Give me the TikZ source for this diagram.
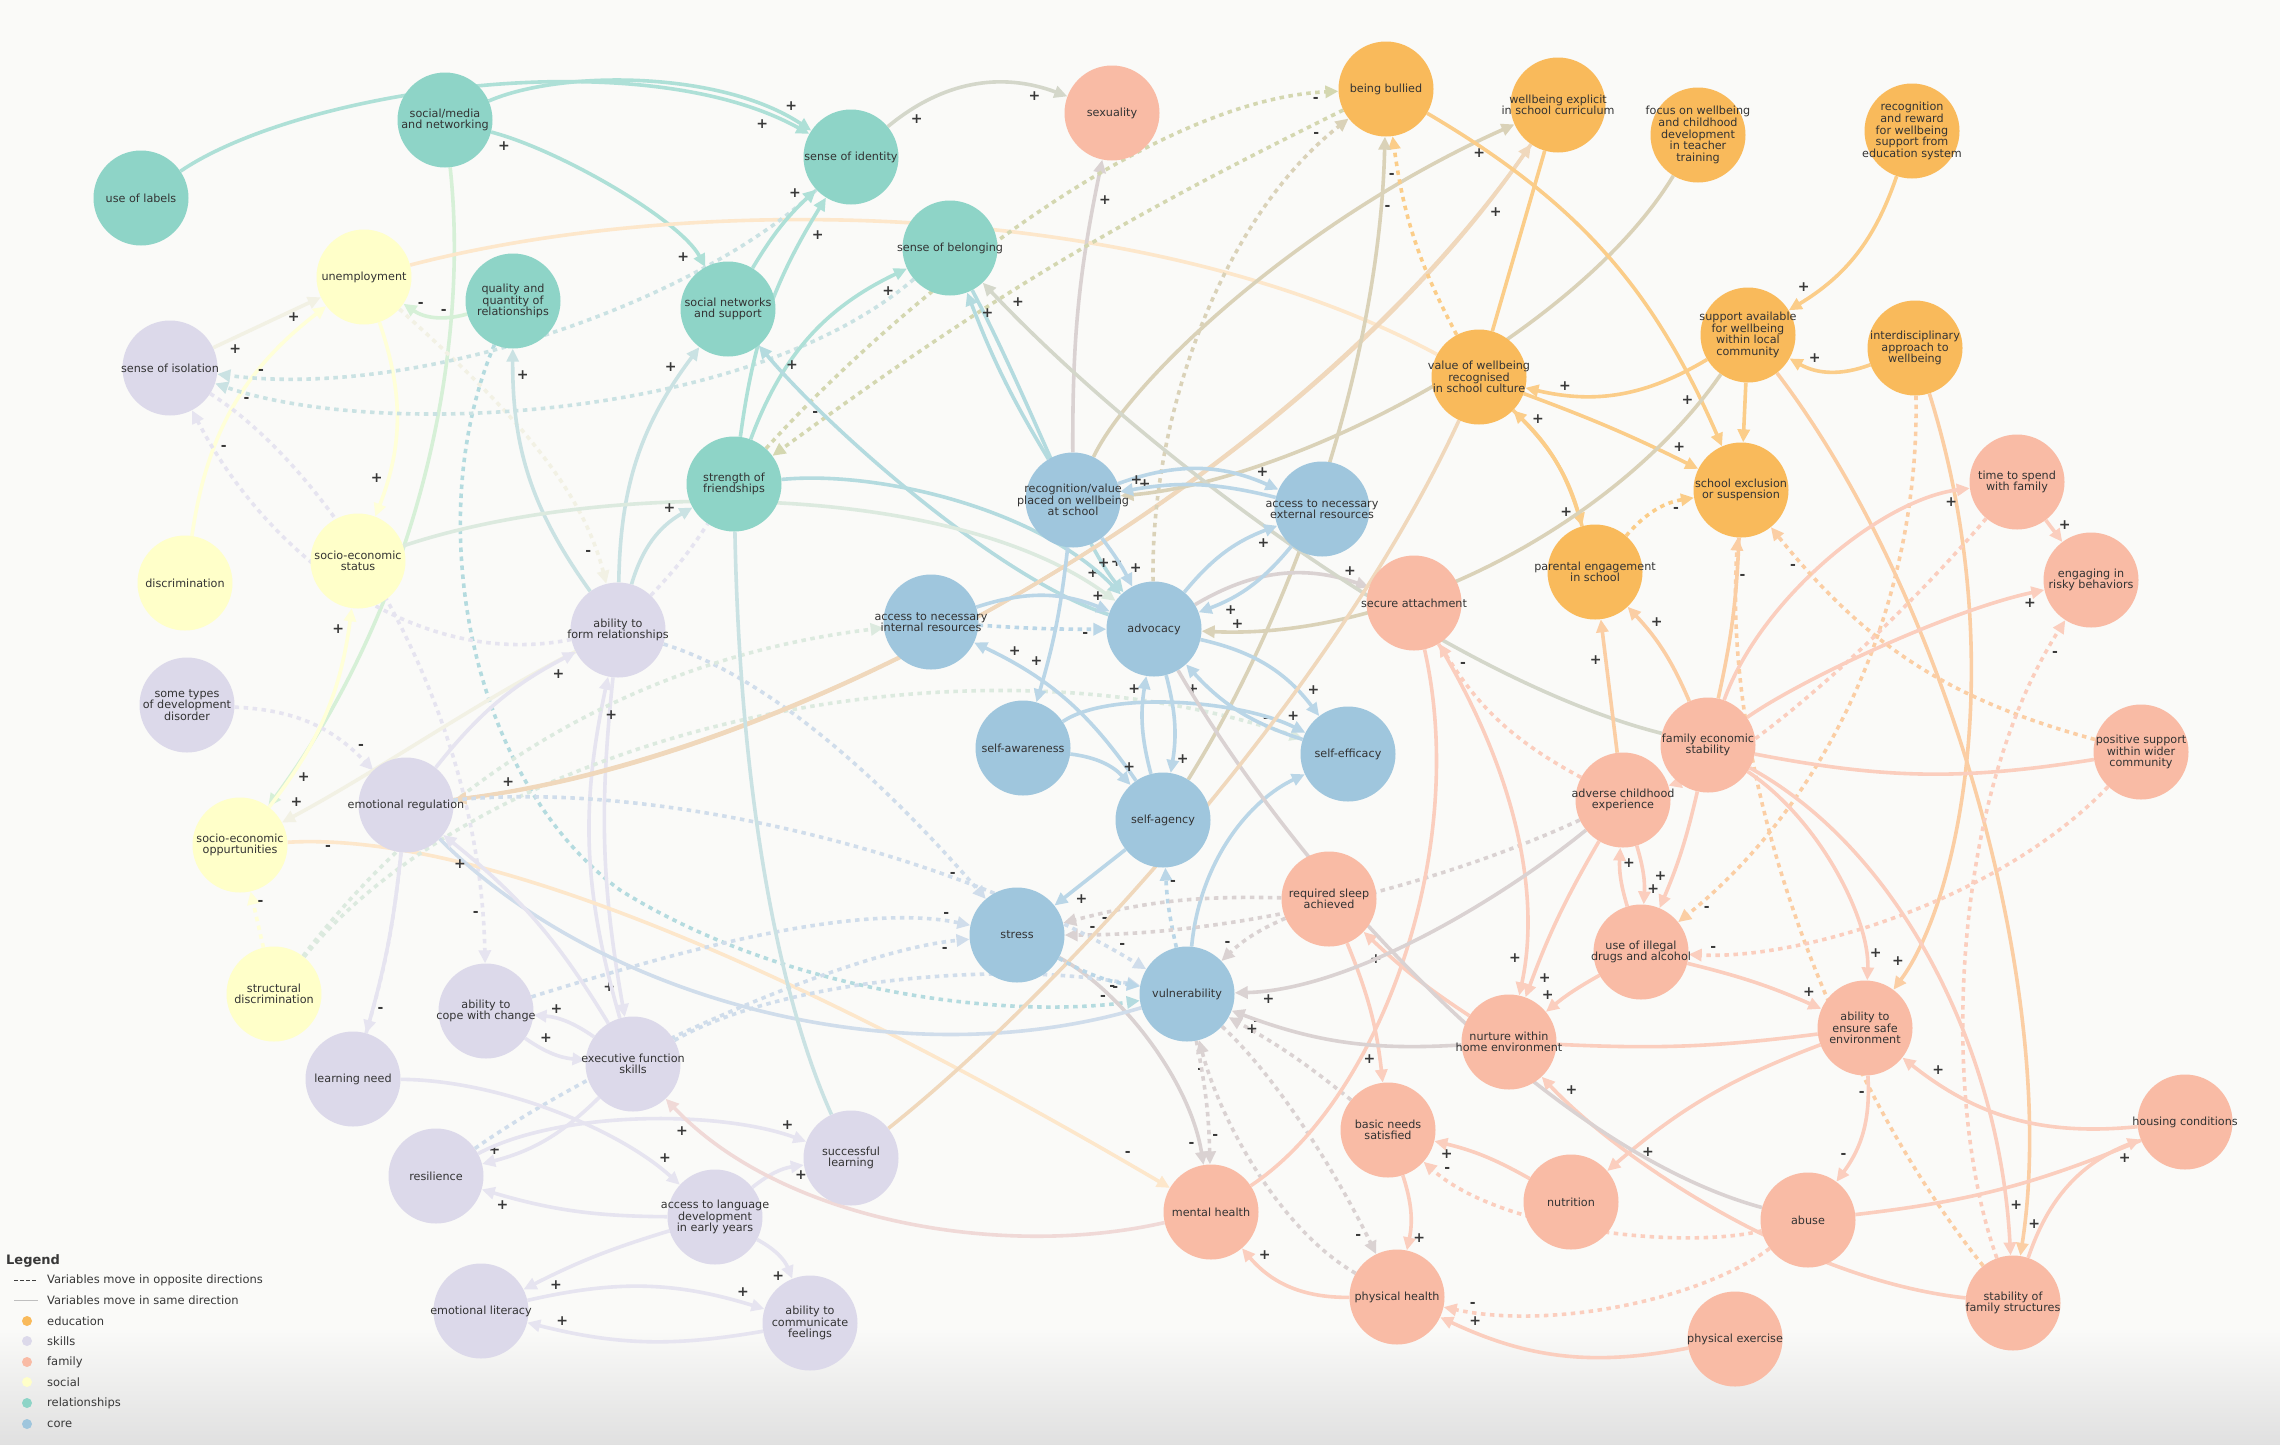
\documentclass[tikz,border=0pt]{standalone}
\usepackage{fontspec}
\setmainfont{DejaVu Sans}
\usetikzlibrary{arrows.meta}
\definecolor{cE}{HTML}{F9BA5B}
\definecolor{cS}{HTML}{DCD9EA}
\definecolor{cF}{HTML}{F9BBA5}
\definecolor{cY}{HTML}{FFFFC9}
\definecolor{cR}{HTML}{8ED4C7}
\definecolor{cC}{HTML}{9FC6DD}
\definecolor{bgc}{HTML}{FAFAF8}
\pgfdeclarelayer{bgl}
\pgfdeclarelayer{edl}
\pgfsetlayers{bgl,edl,main}
\newcommand\nodefnt{\fontsize{11.2}{11.6}\selectfont}
\newcommand\signfnt{\fontsize{14}{14}\selectfont\bfseries}
\newcommand\legfnt{\fontsize{11.5}{12}\selectfont}
\begin{document}
\begin{tikzpicture}[x=1pt,y=1pt,
  nbase/.style={circle,minimum size=95pt,inner sep=-18pt,align=center,font=\nodefnt,text=black!80},
  edu/.style={nbase,fill=cE}, skl/.style={nbase,fill=cS}, fam/.style={nbase,fill=cF},
  soc/.style={nbase,fill=cY}, rel/.style={nbase,fill=cR}, cor/.style={nbase,fill=cC},
  lnk/.style 2 args={line width=3.6pt,draw=#1!50!#2!72!white,-{Triangle[length=13pt,width=12pt]}},
  dsh/.style 2 args={lnk={#1}{#2},dash pattern=on 4.5pt off 4.5pt},
  sgl/.style={font=\signfnt,text=black!78,inner sep=1.5pt,auto=left},
  sgr/.style={font=\signfnt,text=black!78,inner sep=1.5pt,auto=right},
  legtxt/.style={anchor=west,font=\legfnt,text=black!78,inner sep=0pt}]
\useasboundingbox (0,0) rectangle (2280,-1444);
\begin{pgfonlayer}{bgl}
\fill[bgc] (0,0) rectangle (2280,-1444);
\shade[top color=bgc,bottom color=black!12] (0,-1330) rectangle (2280,-1444);
\end{pgfonlayer}

% ---------- nodes ----------
\node[rel] (uselabels) at (141,-198) {use of labels};
\node[rel] (socialmedia) at (445,-120) {social/media\\and networking};
\node[soc] (unemployment) at (364,-277) {unemployment};
\node[rel] (quality) at (513,-301) {quality and\\quantity of\\relationships};
\node[skl] (isolation) at (170,-368) {sense of isolation};
\node[rel] (identity) at (851,-157) {sense of identity};
\node[fam] (sexuality) at (1112,-113) {sexuality};
\node[rel] (belonging) at (950,-248) {sense of belonging};
\node[rel] (networks) at (728,-309) {social networks\\and support};
\node[rel] (strength) at (734,-484) {strength of\\friendships};
\node[edu] (bullied) at (1386,-89) {being bullied};
\node[edu] (curriculum) at (1558,-105) {wellbeing explicit\\in school curriculum};
\node[edu] (focus) at (1698,-135) {focus on wellbeing\\and childhood\\development\\in teacher\\training};
\node[edu] (valuewb) at (1479,-377) {value of wellbeing\\recognised\\in school culture};
\node[edu] (recognition) at (1912,-131) {recognition\\and reward\\for wellbeing\\support from\\education system};
\node[edu] (support) at (1748,-335) {support available\\for wellbeing\\within local\\community};
\node[edu] (interdisc) at (1915,-348) {interdisciplinary\\approach to\\wellbeing};
\node[fam] (timefamily) at (2017,-482) {time to spend\\with family};
\node[edu] (exclusion) at (1741,-490) {school exclusion\\or suspension};
\node[soc] (discrimination) at (185,-583) {discrimination};
\node[soc] (sesstatus) at (358,-561) {socio-economic\\status};
\node[skl] (devdisorder) at (187,-705) {some types\\of development\\disorder};
\node[skl] (emoreg) at (406,-805) {emotional regulation};
\node[soc] (sesopp) at (240,-845) {socio-economic\\oppurtunities};
\node[soc] (structural) at (274,-994) {structural\\discrimination};
\node[skl] (formrel) at (618,-630) {ability to\\form relationships};
\node[cor] (internal) at (931,-622) {access to necessary\\internal resources};
\node[cor] (recogvalue) at (1073,-500) {recognition/value\\placed on wellbeing\\at school};
\node[cor] (selfaware) at (1023,-748) {self-awareness};
\node[cor] (stress) at (1017,-935) {stress};
\node[cor] (external) at (1322,-509) {access to necessary\\external resources};
\node[cor] (advocacy) at (1154,-629) {advocacy};
\node[fam] (secure) at (1414,-603) {secure attachment};
\node[edu] (parental) at (1595,-572) {parental engagement\\in school};
\node[cor] (selfefficacy) at (1348,-754) {self-efficacy};
\node[cor] (selfagency) at (1163,-820) {self-agency};
\node[fam] (famecon) at (1708,-745) {family economic\\stability};
\node[fam] (adverse) at (1623,-800) {adverse childhood\\experience};
\node[fam] (sleep) at (1329,-899) {required sleep\\achieved};
\node[fam] (drugs) at (1641,-952) {use of illegal\\drugs and alcohol};
\node[fam] (risky) at (2091,-580) {engaging in\\risky behaviors};
\node[fam] (positive) at (2141,-752) {positive support\\within wider\\community};
\node[skl] (learning) at (353,-1079) {learning need};
\node[skl] (cope) at (486,-1011) {ability to\\cope with change};
\node[skl] (resilience) at (436,-1176) {resilience};
\node[skl] (emolit) at (481,-1311) {emotional literacy};
\node[skl] (execfn) at (633,-1064) {executive function\\skills};
\node[skl] (successful) at (851,-1158) {successful\\learning};
\node[skl] (language) at (715,-1217) {access to language\\development\\in early years};
\node[skl] (communicate) at (810,-1323) {ability to\\communicate\\feelings};
\node[cor] (vulnerability) at (1187,-994) {vulnerability};
\node[fam] (nurture) at (1509,-1042) {nurture within\\home environment};
\node[fam] (basic) at (1388,-1130) {basic needs\\satisfied};
\node[fam] (mental) at (1211,-1212) {mental health};
\node[fam] (nutrition) at (1571,-1202) {nutrition};
\node[fam] (physhealth) at (1397,-1297) {physical health};
\node[fam] (exercise) at (1735,-1339) {physical exercise};
\node[fam] (safeenv) at (1865,-1028) {ability to\\ensure safe\\environment};
\node[fam] (housing) at (2185,-1122) {housing conditions};
\node[fam] (abuse) at (1808,-1220) {abuse};
\node[fam] (stability) at (2013,-1303) {stability of\\family structures};

% ---------- connectors ----------
\begin{pgfonlayer}{edl}
\draw[lnk={cR}{cR}] (uselabels) .. controls (300,-90) and (640,-40) .. (identity) node[sgr,pos=.93]{+};
\draw[lnk={cR}{cR}] (socialmedia) .. controls (560,-70) and (720,-70) .. (identity) node[sgl,pos=.9]{+};
\draw[lnk={cR}{cR}] (socialmedia) .. controls (560,-150) and (680,-220) .. (networks) node[sgr,pos=.88]{+} node[sgr,pos=.1]{+};
\draw[lnk={cR}{cY}] (socialmedia) .. controls (470,-350) and (420,-600) .. (sesopp) node[sgl,pos=.94]{+};
\draw[lnk={cR}{cY}] (quality) to[bend left=25] node[sgr,pos=.82]{-} node[sgr,pos=.25]{-} (unemployment);
\draw[lnk={cS}{cY}] (isolation) -- node[sgr,pos=.12]{+} (unemployment);
\draw[lnk={cY}{cY}] (discrimination) to[bend left=22] node[sgl,pos=.9]{+} (unemployment);
\draw[lnk={cY}{cY}] (unemployment) to[bend left=20] node[sgr,pos=.85]{+} (sesstatus);
\draw[lnk={cY}{cF},-] (unemployment) .. controls (700,-190) and (1150,-200) .. (valuewb);
\draw[dsh={cY}{cS}] (unemployment) .. controls (500,-400) and (580,-480) .. (formrel) node[sgr,pos=.88]{-};
\draw[dsh={cR}{cC}] (quality) .. controls (420,-520) and (470,-780) .. (620,-890) .. controls (780,-990) and (1000,-1020) .. (vulnerability) node[sgl,pos=.93]{-};
\draw[lnk={cS}{cR}] (formrel) to[bend left=18] node[sgr,pos=.88]{+} (quality);
\draw[dsh={cR}{cS}] (identity) .. controls (700,-300) and (420,-400) .. (isolation) node[sgr,pos=.93]{-};
\draw[dsh={cR}{cS}] (belonging) .. controls (750,-420) and (380,-440) .. (isolation) node[sgl,pos=.93]{-};
\draw[dsh={cS}{cS}] (formrel) .. controls (420,-670) and (270,-560) .. (isolation) node[sgr,pos=.9]{-};
\draw[dsh={cS}{cS}] (isolation) .. controls (330,-470) and (480,-700) .. (cope) node[sgr,pos=.93]{-};
\draw[lnk={cR}{cF}] (identity) to[bend left=30] node[sgr,pos=.12]{+} node[sgr,pos=.88]{+} (sexuality);
\draw[lnk={cC}{cF}] (recogvalue) to[bend left=6] node[sgr,pos=.9]{+} (sexuality);
\draw[lnk={cR}{cR}] (networks) to[bend left=8] node[sgl,pos=.85]{+} (identity);
\draw[lnk={cR}{cR}] (strength) to[bend left=12] node[sgr,pos=.88]{+} (identity);
\draw[lnk={cR}{cR}] (strength) to[bend left=22] node[sgr,pos=.88]{+} (belonging);
\draw[dsh={cR}{cE}] (strength) .. controls (900,-300) and (1150,-100) .. (bullied) node[sgr,pos=.95]{-};
\draw[dsh={cE}{cR}] (bullied) to[bend right=5] node[sgr,pos=.92]{-} (strength);
\draw[lnk={cS}{cR}] (formrel) to[bend left=18] node[sgl,pos=.88]{+} (networks);
\draw[lnk={cC}{cR}] (advocacy) .. controls (1000,-580) and (830,-430) .. (networks) node[sgr,pos=.9]{+};
\draw[lnk={cR}{cC}] (belonging) .. controls (1030,-400) and (1080,-540) .. (advocacy) node[sgl,pos=.88]{+};
\draw[lnk={cY}{cC}] (sesstatus) .. controls (600,-480) and (950,-480) .. (advocacy) node[sgl,pos=.94]{+};
\draw[lnk={cR}{cC}] (strength) .. controls (880,-470) and (1040,-510) .. (advocacy) node[sgl,pos=.9]{+};
\draw[lnk={cS}{cR}] (formrel) to[bend left=22] node[sgl,pos=.85]{+} (strength);
\draw[dsh={cS}{cS},-] (formrel) to[bend right=5] (strength);
\draw[dsh={cS}{cC}] (formrel) .. controls (780,-680) and (900,-800) .. (stress) node[sgr,pos=.9]{-};
\draw[dsh={cS}{cS}] (devdisorder) to[bend left=22] node[sgl,pos=.85]{-} (emoreg);
\draw[lnk={cY}{cY}] (sesopp) to[bend right=15] node[sgl,pos=.88]{+} (sesstatus);
\draw[lnk={cS}{cY}] (formrel) .. controls (480,-700) and (380,-770) .. (sesopp) node[sgr,pos=.92]{+};
\draw[lnk={cS}{cS}] (emoreg) to[bend left=12] node[sgr,pos=.85]{+} (formrel);
\draw[lnk={cS}{cS}] (formrel) to[bend right=8] node[sgr,pos=.9]{+} (execfn);
\draw[lnk={cS}{cS}] (execfn) to[bend left=14] node[sgr,pos=.92]{+} (formrel);
\draw[lnk={cY}{cF}] (sesopp) .. controls (500,-830) and (850,-1000) .. (mental) node[sgr,pos=.07]{-} node[sgl,pos=.95]{-};
\draw[dsh={cY}{cY}] (structural) -- node[sgr,pos=.7]{-} (sesopp);
\draw[dsh={cY}{cC}] (structural) .. controls (430,-790) and (620,-660) .. (internal);
\draw[dsh={cY}{cC}] (structural) .. controls (480,-740) and (950,-620) .. (selfefficacy) node[sgl,pos=.96]{-};
\draw[lnk={cE}{cS}] (curriculum) .. controls (1300,-480) and (800,-760) .. (emoreg) node[sgr,pos=.94]{+};
\draw[lnk={cS}{cE}] (emoreg) .. controls (800,-760) and (1300,-480) .. (curriculum) node[sgr,pos=.94]{+};
\draw[lnk={cC}{cE}] (recogvalue) .. controls (1130,-380) and (1300,-220) .. (curriculum) node[sgr,pos=.93]{+};
\draw[lnk={cE}{cC}] (focus) .. controls (1580,-330) and (1300,-480) .. (recogvalue) node[sgr,pos=.94]{+};
\draw[lnk={cE}{cE},-] (curriculum) -- (valuewb);
\draw[lnk={cE}{cE}] (bullied) to[bend left=18] node[sgr,pos=.88]{+} (exclusion);
\draw[dsh={cE}{cE}] (valuewb) to[bend left=10] node[sgl,pos=.85]{-} (bullied);
\draw[lnk={cC}{cE}] (selfagency) .. controls (1300,-600) and (1380,-350) .. (bullied) node[sgr,pos=.9]{-};
\draw[dsh={cC}{cE}] (advocacy) .. controls (1150,-420) and (1220,-220) .. (bullied) node[sgl,pos=.93]{-};
\draw[lnk={cE}{cE}] (valuewb) to[bend left=15] node[sgr,pos=.85]{+} (parental);
\draw[lnk={cE}{cE}] (parental) to[bend right=15] node[sgr,pos=.85]{+} (valuewb);
\draw[lnk={cE}{cE}] (valuewb) to[bend left=3] node[sgl,pos=.85]{+} (exclusion);
\draw[lnk={cE}{cE}] (support) to[bend left=22] node[sgr,pos=.85]{+} (valuewb);
\draw[lnk={cE}{cE}] (recognition) to[bend left=20] node[sgr,pos=.85]{+} (support);
\draw[lnk={cE}{cE}] (interdisc) to[bend left=25] node[sgr,pos=.8]{+} (support);
\draw[dsh={cE}{cF}] (interdisc) .. controls (1920,-600) and (1830,-800) .. (drugs) node[sgl,pos=.95]{-};
\draw[lnk={cE}{cF}] (interdisc) .. controls (2010,-650) and (1960,-900) .. (safeenv) node[sgr,pos=.93]{+};
\draw[lnk={cE}{cF}] (support) .. controls (1950,-600) and (2060,-1000) .. (stability) node[sgl,pos=.95]{+};
\draw[lnk={cE}{cE}] (support) -- (exclusion);
\draw[lnk={cE}{cC}] (support) .. controls (1620,-520) and (1400,-640) .. (advocacy) node[sgr,pos=.94]{+};
\draw[lnk={cC}{cF}] (advocacy) to[bend left=25] node[sgl,pos=.85]{+} (secure);
\draw[lnk={cF}{cR}] (famecon) .. controls (1450,-680) and (1150,-460) .. (belonging) node[sgr,pos=.95]{+};
\draw[lnk={cC}{cR}] (recogvalue) to[bend left=5] node[sgr,pos=.85]{+} (belonging);
\draw[lnk={cC}{cC}] (recogvalue) to[bend left=5] node[sgl,pos=.8]{+} (advocacy);
\draw[lnk={cC}{cC}] (recogvalue) to[bend left=22] node[sgl,pos=.85]{+} (external);
\draw[lnk={cC}{cC}] (external) to[bend right=12] node[sgr,pos=.85]{+} (recogvalue);
\draw[lnk={cC}{cC}] (advocacy) to[bend left=15] node[sgr,pos=.8]{+} (external);
\draw[lnk={cC}{cC}] (external) to[bend left=15] node[sgl,pos=.8]{+} (advocacy);
\draw[lnk={cC}{cC}] (internal) to[bend left=20] node[sgl,pos=.85]{+} (advocacy);
\draw[dsh={cC}{cC}] (internal) to[bend right=2] node[sgr,pos=.85]{-} (advocacy);
\draw[lnk={cC}{cC}] (selfagency) to[bend right=15] node[sgr,pos=.85]{+} (internal);
\draw[lnk={cC}{cC}] (recogvalue) to[bend left=5] node[sgr,pos=.8]{+} (selfaware);
\draw[lnk={cC}{cC}] (selfaware) to[bend left=20] node[sgl,pos=.8]{+} (selfagency);
\draw[lnk={cC}{cC}] (selfaware) .. controls (1110,-690) and (1240,-700) .. (selfefficacy) node[sgl,pos=.9]{+};
\draw[lnk={cC}{cC}] (advocacy) to[bend left=20] node[sgl,pos=.85]{+} (selfefficacy);
\draw[lnk={cC}{cC}] (selfefficacy) to[bend left=15] node[sgl,pos=.85]{+} (advocacy);
\draw[lnk={cC}{cC}] (vulnerability) .. controls (1200,-860) and (1250,-800) .. (selfefficacy);
\draw[lnk={cC}{cC}] (advocacy) to[bend left=12] node[sgl,pos=.8]{+} (selfagency);
\draw[lnk={cC}{cC}] (selfagency) to[bend left=12] node[sgl,pos=.8]{+} (advocacy);
\draw[dsh={cC}{cC}] (vulnerability) to[bend left=5] node[sgr,pos=.75]{-} (selfagency);
\draw[lnk={cC}{cC}] (selfagency) -- node[sgl,pos=.75]{+} (stress);
\draw[dsh={cF}{cC}] (adverse) .. controls (1450,-880) and (1250,-935) .. (stress) node[sgr,pos=.95]{-};
\draw[dsh={cF}{cC}] (sleep) to[bend right=10] node[sgr,pos=.8]{-} (vulnerability);
\draw[dsh={cF}{cC}] (sleep) to[bend right=8] node[sgl,pos=.85]{-} (stress);
\draw[lnk={cF}{cF}] (nurture) to[bend left=5] node[sgl,pos=.8]{+} (sleep);
\draw[dsh={cF}{cF}] (adverse) to[bend left=15] node[sgr,pos=.85]{-} (secure);
\draw[lnk={cF}{cE}] (adverse) -- node[sgl,pos=.75]{+} (parental);
\draw[lnk={cF}{cE}] (famecon) to[bend right=10] node[sgr,pos=.75]{+} (parental);
\draw[dsh={cE}{cE}] (parental) to[bend left=20] node[sgr,pos=.7]{-} (exclusion);
\draw[lnk={cF}{cF}] (famecon) .. controls (1760,-600) and (1880,-500) .. (timefamily) node[sgr,pos=.9]{+};
\draw[lnk={cF}{cF}] (famecon) .. controls (1800,-680) and (1950,-610) .. (risky) node[sgr,pos=.92]{+};
\draw[lnk={cF}{cF}] (timefamily) -- node[sgl,pos=.6]{+} (risky);
\draw[lnk={cF}{cF},-] (famecon) to[bend right=10] (positive);
\draw[lnk={cF}{cE},-] (famecon) to[bend right=5] (exclusion);
\draw[dsh={cF}{cE}] (stability) .. controls (1850,-1100) and (1720,-800) .. (exclusion) node[sgr,pos=.95]{-};
\draw[dsh={cF}{cE}] (positive) to[bend left=18] node[sgl,pos=.9]{-} (exclusion);
\draw[dsh={cF}{cF}] (timefamily) .. controls (1900,-620) and (1750,-760) .. (adverse);
\draw[dsh={cF}{cF}] (positive) .. controls (2000,-900) and (1800,-960) .. (drugs) node[sgr,pos=.93]{-};
\draw[dsh={cF}{cF}] (stability) .. controls (1940,-1100) and (1950,-800) .. (risky) node[sgr,pos=.95]{-};
\draw[lnk={cF}{cF}] (famecon) .. controls (1820,-820) and (1870,-920) .. (safeenv) node[sgl,pos=.9]{+};
\draw[lnk={cF}{cF}] (famecon) .. controls (1900,-850) and (2000,-1050) .. (stability) node[sgl,pos=.93]{+};
\draw[lnk={cF}{cF}] (stability) to[bend left=25] node[sgr,pos=.85]{+} (housing);
\draw[lnk={cF}{cF},-] (abuse) to[bend right=8] (housing);
\draw[lnk={cF}{cF}] (housing) to[bend left=22] node[sgr,pos=.88]{+} (safeenv);
\draw[lnk={cF}{cF}] (safeenv) to[bend left=20] node[sgr,pos=.2]{-} node[sgr,pos=.8]{-} (abuse);
\draw[dsh={cF}{cF}] (abuse) .. controls (1700,-1300) and (1550,-1330) .. (physhealth) node[sgr,pos=.93]{-};
\draw[lnk={cF}{cF}] (exercise) to[bend left=18] node[sgr,pos=.9]{+} (physhealth);
\draw[lnk={cF}{cF}] (physhealth) to[bend left=25] node[sgr,pos=.85]{+} (mental);
\draw[lnk={cF}{cF}] (basic) to[bend left=15] node[sgl,pos=.75]{+} (physhealth);
\draw[dsh={cC}{cF}] (vulnerability) .. controls (1280,-1080) and (1340,-1180) .. (physhealth) node[sgr,pos=.9]{-};
\draw[dsh={cF}{cC}] (physhealth) .. controls (1280,-1230) and (1220,-1120) .. (vulnerability) node[sgl,pos=.9]{-};
\draw[dsh={cF}{cC}] (basic) to[bend right=5] node[sgr,pos=.85]{-} (vulnerability);
\draw[dsh={cC}{cF}] (vulnerability) to[bend left=5] node[sgl,pos=.8]{-} (mental);
\draw[lnk={cC}{cF}] (stress) .. controls (1120,-990) and (1190,-1080) .. (mental) node[sgr,pos=.9]{-};
\draw[lnk={cF}{cF}] (sleep) to[bend left=8] node[sgr,pos=.8]{+} (basic);
\draw[lnk={cF}{cF},-] (mental) .. controls (1380,-1100) and (1470,-850) .. (secure);
\draw[lnk={cF}{cF}] (secure) .. controls (1520,-780) and (1540,-900) .. (nurture) node[sgr,pos=.9]{+};
\draw[lnk={cF}{cF}] (adverse) to[bend right=5] node[sgl,pos=.85]{+} (nurture);
\draw[lnk={cF}{cF}] (drugs) to[bend right=5] node[sgr,pos=.8]{+} (nurture);
\draw[lnk={cF}{cF}] (drugs) to[bend left=10] node[sgr,pos=.75]{+} (adverse);
\draw[lnk={cF}{cF}] (adverse) to[bend left=10] node[sgl,pos=.75]{+} (drugs);
\draw[lnk={cF}{cF}] (famecon) to[bend left=5] node[sgr,pos=.8]{+} (drugs);
\draw[lnk={cF}{cC}] (adverse) .. controls (1500,-900) and (1350,-990) .. (vulnerability) node[sgl,pos=.93]{+};
\draw[lnk={cF}{cC}] (nurture) to[bend left=12] node[sgl,pos=.88]{+} (vulnerability);
\draw[lnk={cF}{cF}] (nutrition) to[bend right=8] node[sgl,pos=.8]{+} (basic);
\draw[dsh={cF}{cF}] (abuse) .. controls (1680,-1250) and (1500,-1230) .. (basic) node[sgr,pos=.93]{-};
\draw[lnk={cF}{cF}] (safeenv) to[bend right=10] node[sgl,pos=.85]{+} (nutrition);
\draw[lnk={cF}{cF}] (stability) .. controls (1800,-1280) and (1620,-1160) .. (nurture) node[sgr,pos=.92]{+};
\draw[lnk={cC}{cF},-] (advocacy) .. controls (1300,-880) and (1550,-1150) .. (abuse);
\draw[lnk={cF}{cF}] (drugs) to[bend left=5] node[sgl,pos=.85]{+} (safeenv);
\draw[lnk={cF}{cF},-] (nurture) to[bend right=5] (safeenv);
\draw[dsh={cS}{cC}] (cope) .. controls (650,-960) and (850,-900) .. (stress) node[sgl,pos=.92]{-};
\draw[dsh={cS}{cC}] (resilience) .. controls (600,-1060) and (850,-950) .. (stress) node[sgr,pos=.92]{-};
\draw[dsh={cS}{cC}] (emoreg) .. controls (650,-780) and (950,-850) .. (vulnerability) node[sgl,pos=.95]{-};
\draw[dsh={cS}{cC}] (execfn) .. controls (780,-980) and (1000,-960) .. (vulnerability) node[sgr,pos=.95]{-};
\draw[lnk={cS}{cC},-] (emoreg) .. controls (600,-1000) and (900,-1080) .. (vulnerability);
\draw[dsh={cS}{cS}] (emoreg) to[bend left=5] node[sgl,pos=.85]{-} (learning);
\draw[lnk={cS}{cS},-] (learning) to[bend right=5] (emoreg);
\draw[lnk={cS}{cS}] (execfn) to[bend right=15] node[sgr,pos=.8]{+} (cope);
\draw[lnk={cS}{cS}] (cope) to[bend right=15] node[sgl,pos=.2]{+} (execfn);
\draw[lnk={cS}{cS}] (execfn) to[bend right=10] node[sgl,pos=.88]{+} (emoreg);
\draw[lnk={cS}{cS}] (execfn) to[bend left=15] node[sgr,pos=.85]{+} (resilience);
\draw[lnk={cS}{cS}] (resilience) .. controls (560,-1110) and (720,-1110) .. (successful) node[sgl,pos=.9]{+};
\draw[lnk={cS}{cS}] (learning) .. controls (500,-1080) and (620,-1130) .. (language) node[sgl,pos=.88]{+};
\draw[lnk={cS}{cS}] (language) to[bend left=15] node[sgr,pos=.8]{+} (successful);
\draw[lnk={cS}{cS}] (language) to[bend left=20] node[sgr,pos=.8]{+} (communicate);
\draw[lnk={cS}{cS}] (emolit) to[bend left=15] node[sgl,pos=.88]{+} (communicate);
\draw[lnk={cS}{cS}] (language) to[bend right=5] node[sgl,pos=.85]{+} (emolit);
\draw[lnk={cS}{cS}] (communicate) to[bend left=12] node[sgr,pos=.9]{+} (emolit);
\draw[lnk={cS}{cS}] (language) to[bend left=8] node[sgl,pos=.85]{+} (resilience);
\draw[lnk={cF}{cS}] (mental) .. controls (1000,-1260) and (780,-1220) .. (execfn) node[sgl,pos=.93]{+};
\draw[lnk={cS}{cR},-] (successful) .. controls (780,-1000) and (740,-800) .. (strength);
\draw[lnk={cS}{cE},-] (successful) .. controls (1050,-1000) and (1330,-700) .. (valuewb);
\draw[dsh={cC}{cC}] (stress) to[bend right=10] node[sgr,pos=.8]{-} (vulnerability);
\end{pgfonlayer}

% ---------- legend ----------
\node[anchor=west,font=\fontsize{13}{13}\selectfont\bfseries,text=black!78,inner sep=0pt] (legtitle) at (6,-1261) {Legend};
\coordinate (da) at (14,-1280); \coordinate (db) at (38,-1280);
\draw[black!75,line width=1pt,dash pattern=on 3.5pt off 2.5pt] (da) -- (db);
\node[legtxt] (l1) at (47,-1280) {Variables move in opposite directions};
\coordinate (sa) at (14,-1300); \coordinate (sb) at (38,-1300);
\draw[black!25,line width=1pt] (sa) -- (sb);
\node[legtxt] (l2) at (47,-1300) {Variables move in same direction};
\fill[cE] (27,-1321) circle (5pt); \node[legtxt] (l3) at (47,-1321) {education};
\fill[cS] (27,-1341) circle (5pt); \node[legtxt] (l4) at (47,-1341) {skills};
\fill[cF] (27,-1362) circle (5pt); \node[legtxt] (l5) at (47,-1362) {family};
\fill[cY] (27,-1382) circle (5pt); \node[legtxt] (l6) at (47,-1382) {social};
\fill[cR] (27,-1403) circle (5pt); \node[legtxt] (l7) at (47,-1403) {relationships};
\fill[cC] (27,-1424) circle (5pt); \node[legtxt] (l8) at (47,-1424) {core};
\end{tikzpicture}
\end{document}
